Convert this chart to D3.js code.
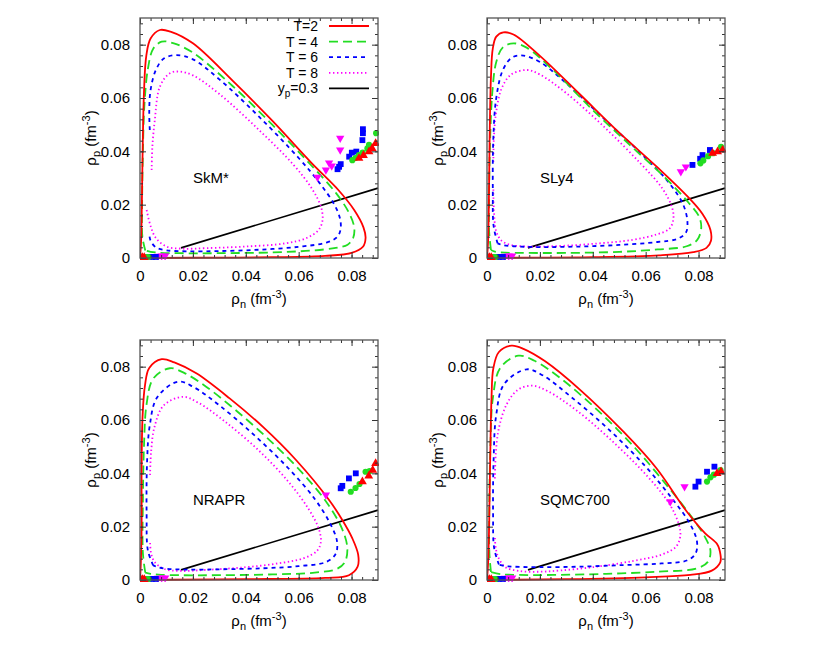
<!DOCTYPE html>
<html><head><meta charset="utf-8">
<script src="https://cdn.jsdelivr.net/npm/d3@7/dist/d3.min.js"></script>
<style>
body{margin:0;background:#fff;}
text{font-family:"Liberation Sans",Arial,Helvetica,sans-serif;}
</style>
</head><body>
<svg id="c" width="830" height="646"></svg>
<script>
// ---------------- DATA ----------------
const panelNames = ["SkM*", "SLy4", "NRAPR", "SQMC700"];
const legendLabels = ["T=2", "T = 4", "T = 6", "T = 8"];
const xTickValues = [0, 0.02, 0.04, 0.06, 0.08];
const yTickValues = [0, 0.02, 0.04, 0.06, 0.08];
const axisMax = 0.09;

// yp = 0.3 line (rho_n, rho_p)
const ypLine = [[0.0155, 0.0038], [0.09, 0.0262]];

// ---- SkM* ----
const redSkM = [[0,0],[0.0004,0.006],[0.0007,0.02],[0.001,0.04],[0.0015,0.062],[0.0024,0.076],[0.004,0.0823],[0.0075,0.0855],[0.0115,0.0849],[0.02,0.0805],[0.035,0.0665],[0.05,0.0515],[0.065,0.0355],[0.075,0.0255],[0.081,0.018],[0.0845,0.0115],[0.0853,0.0075],[0.0843,0.0042],[0.08,0.0019],[0.07,0.0008],[0.05,0.0003],[0.02,0.0001],[0.005,0],[0,0]];
const greenSkM = [[0.002,0.0028],[0.0009,0.008],[0.0008,0.02],[0.0011,0.04],[0.0017,0.058],[0.003,0.071],[0.005,0.0785],[0.0082,0.0811],[0.0125,0.0806],[0.02,0.077],[0.035,0.0645],[0.05,0.05],[0.065,0.0345],[0.074,0.0245],[0.079,0.017],[0.081,0.0115],[0.0806,0.0075],[0.0785,0.005],[0.074,0.0038],[0.065,0.0028],[0.05,0.0021],[0.03,0.0018],[0.015,0.0018],[0.007,0.002],[0.004,0.0023],[0.002,0.0028]];
const blueSkM = [[0.0037,0.048],[0.0035,0.055],[0.004,0.063],[0.006,0.0705],[0.009,0.0748],[0.0138,0.0761],[0.02,0.0745],[0.03,0.067],[0.045,0.053],[0.06,0.0375],[0.068,0.028],[0.0735,0.02],[0.0757,0.0145],[0.0758,0.0105],[0.0745,0.0078],[0.0705,0.0058],[0.06,0.0042],[0.045,0.0031],[0.03,0.0026],[0.018,0.0025],[0.01,0.0029],[0.006,0.004],[0.004,0.0065],[0.0035,0.009]];
const magentaSkM = [[0.0044,0.033],[0.0047,0.042],[0.0056,0.0517],[0.0075,0.0642],[0.0113,0.0693],[0.015,0.0699],[0.02,0.0685],[0.03,0.0615],[0.045,0.048],[0.058,0.035],[0.065,0.026],[0.0685,0.019],[0.069,0.014],[0.0675,0.0105],[0.063,0.0075],[0.055,0.0055],[0.04,0.0043],[0.025,0.0037],[0.016,0.0035],[0.01,0.0043],[0.006,0.0075],[0.004,0.012],[0.0025,0.018]];
const ptsRedSkM = [[0.0828,0.0374],[0.0845,0.0385],[0.0866,0.0399],[0.0878,0.0411],[0.0891,0.043]];
const ptsGreenSkM = [[0.0803,0.0367],[0.0815,0.0375],[0.0828,0.0386],[0.0842,0.0395],[0.086,0.0411],[0.0866,0.0424],[0.0893,0.0468]];
const ptsBlueSkM = [[0.0747,0.0333],[0.0753,0.0342],[0.0759,0.0352],[0.0791,0.038],[0.0801,0.0395],[0.0818,0.0399],[0.0841,0.0442],[0.0843,0.0468],[0.0843,0.0483]];
const ptsMagentaSkM = [[0.0757,0.0449],[0.0757,0.0405],[0.0715,0.0357],[0.0725,0.0345],[0.0703,0.033],[0.0671,0.0303]];

// ---- SLy4 ----
const redSLy4 = [[0,0],[0.0004,0.006],[0.0007,0.02],[0.001,0.045],[0.0015,0.068],[0.0022,0.0786],[0.0035,0.083],[0.0062,0.0846],[0.01,0.0838],[0.02,0.0758],[0.035,0.0615],[0.05,0.047],[0.065,0.0335],[0.0759,0.023],[0.0815,0.0165],[0.0845,0.0105],[0.0847,0.0065],[0.083,0.0038],[0.078,0.0022],[0.065,0.001],[0.04,0.0003],[0.01,0.0001],[0,0]];
const greenSLy4 = [[0.0015,0.003],[0.0008,0.01],[0.0008,0.025],[0.0012,0.045],[0.002,0.062],[0.0035,0.0735],[0.006,0.079],[0.01,0.0805],[0.015,0.0789],[0.025,0.0705],[0.04,0.0555],[0.055,0.0415],[0.068,0.0295],[0.076,0.021],[0.0802,0.0155],[0.081,0.0111],[0.0795,0.0068],[0.0755,0.0044],[0.0645,0.0032],[0.05,0.0023],[0.03,0.0019],[0.015,0.0019],[0.007,0.002],[0.003,0.0024],[0.0015,0.003]];
const blueSLy4 = [[0.004,0.0055],[0.0025,0.012],[0.0022,0.025],[0.0024,0.045],[0.0035,0.06],[0.006,0.0705],[0.0095,0.0752],[0.0138,0.0759],[0.02,0.0735],[0.03,0.0655],[0.045,0.0515],[0.06,0.0375],[0.069,0.028],[0.0742,0.02],[0.0758,0.0135],[0.0752,0.0095],[0.072,0.0072],[0.0645,0.006],[0.05,0.0049],[0.035,0.0043],[0.02,0.0041],[0.01,0.0044],[0.006,0.0048],[0.004,0.0055]];
const magentaSLy4 = [[0.0024,0.036],[0.0026,0.045],[0.0035,0.055],[0.0055,0.0635],[0.009,0.0687],[0.0151,0.0705],[0.02,0.0688],[0.03,0.0618],[0.045,0.0485],[0.058,0.0355],[0.066,0.0265],[0.0698,0.0195],[0.0705,0.0148],[0.069,0.011],[0.064,0.0088],[0.055,0.0068],[0.04,0.0053],[0.025,0.0044],[0.015,0.0043],[0.009,0.0049],[0.0055,0.0065],[0.0035,0.01],[0.0026,0.018],[0.0024,0.026]];
const ptsRedSLy4 = [[0.0853,0.0393],[0.0872,0.0399],[0.0891,0.0405]];
const ptsGreenSLy4 = [[0.0807,0.0355],[0.0818,0.0366],[0.0836,0.0382],[0.0855,0.0393],[0.0885,0.0417]];
const ptsBlueSLy4 = [[0.0777,0.0349],[0.0806,0.0372],[0.0815,0.0386],[0.0843,0.0405]];
const ptsMagentaSLy4 = [[0.0733,0.0324],[0.0752,0.0342]];

// ---- NRAPR ----
const redNRAPR = [[0,0],[0.0003,0.006],[0.0006,0.02],[0.0006,0.0419],[0.001,0.062],[0.0019,0.0731],[0.0035,0.0795],[0.0082,0.0828],[0.013,0.0816],[0.0213,0.0775],[0.0339,0.0681],[0.0464,0.0575],[0.059,0.045],[0.0715,0.03],[0.0765,0.0225],[0.0803,0.0156],[0.0825,0.0095],[0.0823,0.005],[0.079,0.0018],[0.07,0.0008],[0.04,0.0003],[0.01,0.0001],[0,0]];
const greenNRAPR = [[0.002,0.0028],[0.0011,0.01],[0.0011,0.03],[0.0015,0.05],[0.0025,0.066],[0.005,0.0755],[0.0113,0.0794],[0.017,0.0775],[0.025,0.0725],[0.037,0.063],[0.05,0.0515],[0.062,0.0395],[0.071,0.0285],[0.0765,0.019],[0.0784,0.012],[0.0775,0.0068],[0.0745,0.0042],[0.0653,0.0027],[0.05,0.0021],[0.03,0.0018],[0.015,0.0018],[0.007,0.002],[0.004,0.0023],[0.002,0.0028]];
const blueNRAPR = [[0.005,0.0055],[0.003,0.011],[0.0025,0.025],[0.0027,0.045],[0.0037,0.058],[0.0065,0.0685],[0.0144,0.0744],[0.02,0.0725],[0.03,0.0655],[0.043,0.0545],[0.056,0.042],[0.066,0.0305],[0.072,0.021],[0.0745,0.0145],[0.074,0.0098],[0.0705,0.0068],[0.06,0.0052],[0.0464,0.0044],[0.03,0.004],[0.018,0.0039],[0.01,0.0042],[0.007,0.0047],[0.005,0.0055]];
const magentaNRAPR = [[0.0038,0.0394],[0.0042,0.048],[0.0055,0.0575],[0.009,0.0655],[0.0163,0.0687],[0.022,0.0665],[0.032,0.0595],[0.045,0.0485],[0.056,0.037],[0.0635,0.027],[0.0675,0.0195],[0.0684,0.0144],[0.067,0.011],[0.062,0.0082],[0.052,0.0062],[0.04,0.0048],[0.025,0.0038],[0.0151,0.0034],[0.009,0.0042],[0.0055,0.0068],[0.0042,0.01],[0.0038,0.0144]];
const ptsRedNRAPR = [[0.0841,0.0369],[0.0865,0.039],[0.088,0.0412],[0.0891,0.0437]];
const ptsGreenNRAPR = [[0.0797,0.0331],[0.0815,0.0345],[0.083,0.036],[0.0853,0.0406],[0.0868,0.0408]];
const ptsBlueNRAPR = [[0.0759,0.0344],[0.0765,0.0353],[0.079,0.0381],[0.0816,0.04]];
const ptsMagentaNRAPR = [[0.0703,0.0319]];

// ---- SQMC700 ----
const redSQMC = [[0,0],[0.0004,0.006],[0.0008,0.02],[0.0012,0.045],[0.0017,0.068],[0.0024,0.0794],[0.0045,0.0855],[0.0093,0.0879],[0.014,0.0866],[0.022,0.082],[0.035,0.0715],[0.0516,0.0556],[0.064,0.042],[0.0756,0.0256],[0.0825,0.0175],[0.087,0.0135],[0.0883,0.0094],[0.0882,0.0066],[0.085,0.0035],[0.0769,0.0019],[0.06,0.001],[0.03,0.0003],[0.01,0.0001],[0,0]];
const greenSQMC = [[0.0015,0.003],[0.0009,0.01],[0.0009,0.03],[0.0013,0.05],[0.0022,0.068],[0.005,0.0795],[0.0119,0.0841],[0.018,0.0822],[0.028,0.0755],[0.042,0.0635],[0.056,0.0495],[0.068,0.0355],[0.0775,0.0235],[0.0825,0.016],[0.0845,0.011],[0.0835,0.0068],[0.0795,0.0044],[0.0644,0.0031],[0.045,0.0023],[0.025,0.0019],[0.012,0.0019],[0.005,0.0022],[0.0015,0.003]];
const blueSQMC = [[0.0045,0.0058],[0.0027,0.012],[0.0023,0.025],[0.0025,0.045],[0.0035,0.062],[0.0065,0.0735],[0.015,0.079],[0.021,0.0768],[0.032,0.0685],[0.046,0.0565],[0.06,0.0425],[0.07,0.0305],[0.0765,0.0215],[0.0794,0.0145],[0.0788,0.0098],[0.0755,0.0073],[0.066,0.0062],[0.0516,0.0056],[0.035,0.005],[0.02,0.0048],[0.01,0.005],[0.0065,0.0053],[0.0045,0.0058]];
const magentaSQMC = [[0.003,0.0381],[0.0033,0.047],[0.0045,0.057],[0.0075,0.066],[0.0115,0.0712],[0.0169,0.0729],[0.023,0.0708],[0.034,0.0635],[0.048,0.0515],[0.061,0.0385],[0.069,0.0285],[0.0725,0.021],[0.0731,0.0165],[0.0715,0.0125],[0.066,0.0095],[0.055,0.0071],[0.04,0.0048],[0.028,0.0036],[0.02,0.0031],[0.012,0.0034],[0.007,0.0048],[0.0045,0.008],[0.0033,0.012],[0.003,0.0163]];
const ptsRedSQMC = [[0.087,0.04],[0.0885,0.0406]];
const ptsGreenSQMC = [[0.0832,0.0369],[0.0845,0.0385],[0.0858,0.0395],[0.0883,0.0412]];
const ptsBlueSQMC = [[0.0788,0.035],[0.08,0.0369],[0.0832,0.0406],[0.086,0.0425]];
const ptsMagentaSQMC = [[0.0747,0.035],[0.0693,0.0294]];

// low-density points on the rho_p ~ 0 axis (common to all panels)
const ptsRedLow = [[0.0003,0.0001],[0.0009,0.0002],[0.0016,0.0002]];
const ptsGreenLow = [[0.0013,0.0002],[0.0022,0.0003],[0.0032,0.0003]];
const ptsBlueLow = [[0.0032,0.0003],[0.0045,0.0004],[0.006,0.0004]];
const ptsMagentaLow = [[0.0068,0.0007],[0.0082,0.0008],[0.0095,0.0008]];

// ---------------- DRAWING ----------------
const seriesColors = ["#ff0000", "#22dd22", "#0000ff", "#ff00ff"];
const dashes = [null, "9,5", "4,4", "1.4,2.6"];
const curves = [
  [redSkM, greenSkM, blueSkM, magentaSkM],
  [redSLy4, greenSLy4, blueSLy4, magentaSLy4],
  [redNRAPR, greenNRAPR, blueNRAPR, magentaNRAPR],
  [redSQMC, greenSQMC, blueSQMC, magentaSQMC]
];
const points = [
  [ptsRedSkM, ptsGreenSkM, ptsBlueSkM, ptsMagentaSkM],
  [ptsRedSLy4, ptsGreenSLy4, ptsBlueSLy4, ptsMagentaSLy4],
  [ptsRedNRAPR, ptsGreenNRAPR, ptsBlueNRAPR, ptsMagentaNRAPR],
  [ptsRedSQMC, ptsGreenSQMC, ptsBlueSQMC, ptsMagentaSQMC]
];
const lowPts = [ptsRedLow, ptsGreenLow, ptsBlueLow, ptsMagentaLow];

const W = 238, H = 240;
const layout = [{l:140,t:18},{l:487,t:18},{l:140,t:340},{l:487,t:340}];
const svg = d3.select("#c");
const fs = 15;
const fmt = d => d === 0 ? "0" : d.toFixed(2);
const minorTicks = d3.range(0, 0.0901, 0.004);

const symGen = [
  d3.symbol().type(d3.symbolTriangle).size(34),
  d3.symbol().type(d3.symbolCircle).size(30),
  d3.symbol().type(d3.symbolSquare).size(34),
  d3.symbol().type(d3.symbolTriangle).size(30)
];

layout.forEach((p, i) => {
  const x = d3.scaleLinear().domain([0, axisMax]).range([p.l, p.l + W]);
  const y = d3.scaleLinear().domain([0, axisMax]).range([p.t + H, p.t]);
  const g = svg.append("g");
  const clipId = "clip" + i;
  svg.append("clipPath").attr("id", clipId).append("rect")
    .attr("x", p.l).attr("y", p.t - 1).attr("width", W + 1).attr("height", H + 3);

  const line = d3.line().x(d => x(d[0])).y(d => y(d[1])).curve(d3.curveCatmullRom.alpha(0.5));
  const plot = g.append("g").attr("clip-path", `url(#${clipId})`);

  // yp line
  plot.append("path").attr("d", d3.line().x(d => x(d[0])).y(d => y(d[1]))(ypLine))
    .attr("fill", "none").attr("stroke", "#000").attr("stroke-width", 1.6);

  // curves (draw T=8 first so red lies on top)
  for (let k = 3; k >= 0; k--) {
    plot.append("path").attr("d", line(curves[i][k]))
      .attr("fill", "none").attr("stroke", seriesColors[k]).attr("stroke-width", 1.8)
      .attr("stroke-dasharray", dashes[k]);
  }

  // markers
  [3, 2, 1, 0].forEach(k => {
    const all = points[i][k].concat(lowPts[k]);
    plot.selectAll(null).data(all).enter().append("path")
      .attr("d", symGen[k])
      .attr("transform", d => `translate(${x(d[0])},${y(d[1])})` + (k === 3 ? " rotate(180)" : ""))
      .attr("fill", seriesColors[k]);
  });

  // panel name
  g.append("text").attr("x", x(0.02)).attr("y", y(0.03)).attr("dy", "0.35em")
    .attr("font-size", fs).text(panelNames[i]);

  // axes
  const axG = g.append("g").attr("class", "axes");
  const styleAxis = sel => {
    sel.select(".domain").remove();
    sel.selectAll("line").attr("stroke", "#333");
    sel.selectAll("text").attr("font-size", fs).attr("fill", "#000")
      .attr("font-family", '"Liberation Sans",Arial,sans-serif');
  };
  axG.append("g").attr("transform", `translate(0,${p.t + H})`)
    .call(d3.axisBottom(x).tickValues(xTickValues).tickSize(-6).tickPadding(12).tickFormat(fmt)).call(styleAxis);
  axG.append("g").attr("transform", `translate(0,${p.t + H})`)
    .call(d3.axisBottom(x).tickValues(minorTicks).tickSize(-3).tickFormat("")).call(styleAxis);
  axG.append("g").attr("transform", `translate(0,${p.t})`)
    .call(d3.axisTop(x).tickValues(xTickValues).tickSize(-6).tickFormat("")).call(styleAxis);
  axG.append("g").attr("transform", `translate(0,${p.t})`)
    .call(d3.axisTop(x).tickValues(minorTicks).tickSize(-3).tickFormat("")).call(styleAxis);
  axG.append("g").attr("transform", `translate(${p.l},0)`)
    .call(d3.axisLeft(y).tickValues(yTickValues).tickSize(-6).tickPadding(10).tickFormat(fmt)).call(styleAxis);
  axG.append("g").attr("transform", `translate(${p.l},0)`)
    .call(d3.axisLeft(y).tickValues(minorTicks).tickSize(-3).tickFormat("")).call(styleAxis);
  axG.append("g").attr("transform", `translate(${p.l + W},0)`)
    .call(d3.axisRight(y).tickValues(yTickValues).tickSize(-6).tickFormat("")).call(styleAxis);
  axG.append("g").attr("transform", `translate(${p.l + W},0)`)
    .call(d3.axisRight(y).tickValues(minorTicks).tickSize(-3).tickFormat("")).call(styleAxis);

  // frame
  g.append("rect").attr("x", p.l).attr("y", p.t).attr("width", W).attr("height", H)
    .attr("fill", "none").attr("stroke", "#555").attr("stroke-width", 1.3);

  // x-axis title
  const xt = g.append("text").attr("x", p.l + W / 2).attr("y", p.t + H + 46)
    .attr("text-anchor", "middle").attr("font-size", fs);
  xt.append("tspan").text("ρ");
  xt.append("tspan").attr("dy", 4).attr("font-size", 11).text("n");
  xt.append("tspan").attr("dy", -4).text(" (fm");
  xt.append("tspan").attr("dy", -6).attr("font-size", 11).text("-3");
  xt.append("tspan").attr("dy", 6).text(")");

  // y-axis title
  const yt = g.append("text")
    .attr("transform", `translate(${p.l - 44},${p.t + H / 2}) rotate(-90)`)
    .attr("text-anchor", "middle").attr("font-size", fs);
  yt.append("tspan").text("ρ");
  yt.append("tspan").attr("dy", 4).attr("font-size", 11).text("p");
  yt.append("tspan").attr("dy", -4).text(" (fm");
  yt.append("tspan").attr("dy", -6).attr("font-size", 11).text("-3");
  yt.append("tspan").attr("dy", 6).text(")");

  // legend (first panel only)
  if (i === 0) {
    const lg = g.append("g");
    const rowY = k => 26 + k * 15.6;
    for (let k = 0; k < 5; k++) {
      const col = k < 4 ? seriesColors[k] : "#000";
      lg.append("line").attr("x1", 329).attr("x2", 369).attr("y1", rowY(k)).attr("y2", rowY(k))
        .attr("stroke", col).attr("stroke-width", 1.8)
        .attr("stroke-dasharray", k < 4 ? dashes[k] : null);
      const t = lg.append("text").attr("x", 318).attr("y", rowY(k)).attr("dy", "0.35em")
        .attr("text-anchor", "end").attr("font-size", 14);
      if (k < 4) t.text(legendLabels[k]);
      else {
        t.append("tspan").text("y");
        t.append("tspan").attr("dy", 4).attr("font-size", 10).text("p");
        t.append("tspan").attr("dy", -4).text("=0.3");
      }
    }
  }
});
</script>
</body></html>
